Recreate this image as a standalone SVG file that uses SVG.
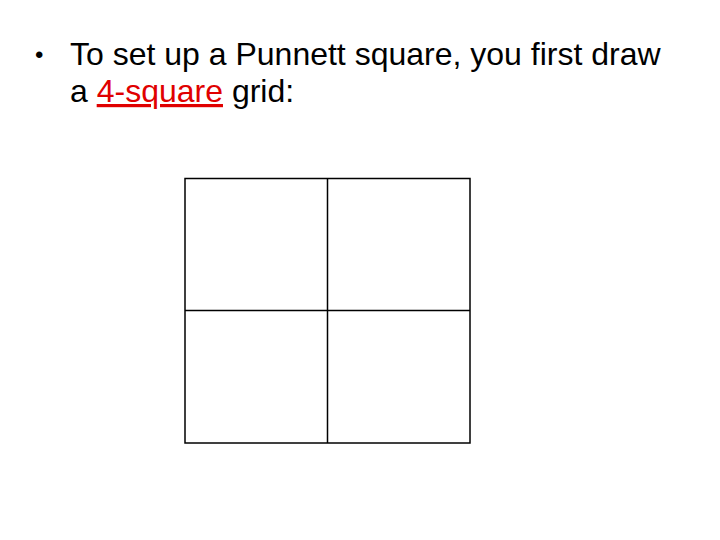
<svg xmlns="http://www.w3.org/2000/svg" width="720" height="540" viewBox="0 0 720 540">
<style>
text{font-family:"Liberation Sans",Arial,sans-serif;font-size:32px;fill:#000}
.b{font-size:24px}
.red{fill:#e00000}
.g{fill:none;stroke:#000;stroke-width:1.5}
</style>
<rect width="720" height="540" fill="#fff"/>
<g id="text">
<text class="b" x="35" y="63">•</text>
<text x="70" y="65">To set up a Punnett square, you first draw</text>
<text x="70" y="102">a <tspan class="red" text-decoration="underline">4-square</tspan> grid:</text>
</g>
<g id="grid">
<rect class="g" x="185" y="178.5" width="285" height="264.5"/>
<line class="g" x1="327.5" y1="178.5" x2="327.5" y2="443"/>
<line class="g" x1="185" y1="310.5" x2="470" y2="310.5"/>
</g>
</svg>
